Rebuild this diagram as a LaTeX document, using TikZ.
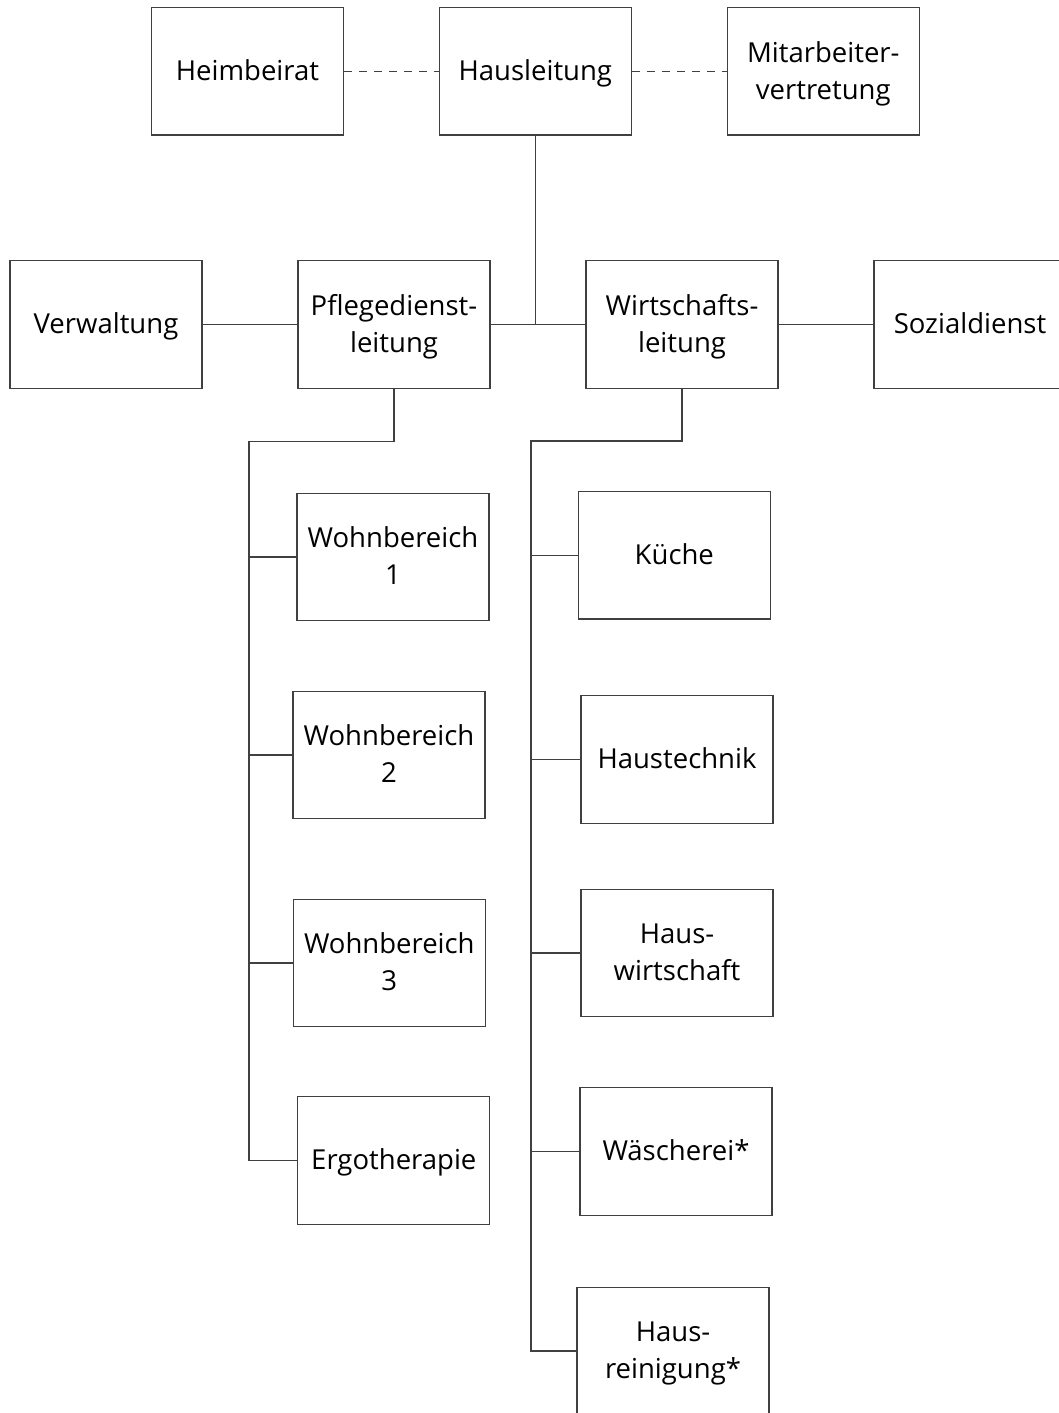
\documentclass[tikz,border=0pt]{standalone}
\usepackage{fontspec}
\setmainfont{Open Sans}
\newcommand\ls{\rule[-0.25em]{0pt}{1.18em}}
\begin{document}
\begin{tikzpicture}[x=1pt,y=-1pt,
  box/.style={draw=black!75, line width=1.2pt, minimum width=192pt, minimum height=127.5pt,
    inner sep=0pt, align=center, font=\fontsize{27.5}{37}\selectfont},
  conn/.style={draw=black!75, line width=1.2pt},
  dconn/.style={conn, dash pattern=on 8pt off 7pt}]
\useasboundingbox (0,0) rectangle (1059,1413);
% top row
\node[box] (heim) at (247.5,71.3) {\ls Heimbeirat};
\node[box] (haus) at (535.3,71.3) {\ls Hausleitung};
\node[box] (mitarb) at (823.3,71.3) {\ls Mitarbeiter-\\\ls vertretung};
% second row
\node[box] (verw) at (106,324.5) {\ls Verwaltung};
\node[box] (pflege) at (394,324.5) {\ls Pflegedienst-\\\ls leitung};
\node[box] (wirt) at (682,324.5) {\ls Wirtschafts-\\\ls leitung};
\node[box] (sozial) at (970,324.5) {\ls Sozialdienst};
% left column
\node[box] (wb1) at (393,557) {\ls Wohnbereich\\\ls 1};
\node[box] (wb2) at (389,755) {\ls Wohnbereich\\\ls 2};
\node[box] (wb3) at (389.3,963) {\ls Wohnbereich\\\ls 3};
\node[box] (ergo) at (393.8,1160.5) {\ls Ergotherapie};
% right column
\node[box] (kueche) at (674.3,555.3) {\ls Küche};
\node[box] (haustech) at (677,759.5) {\ls Haustechnik};
\node[box] (hausw) at (677,953) {\ls Haus-\\\ls wirtschaft};
\node[box] (waesch) at (676,1151.5) {\ls Wäscherei*};
\node[box] (hausrein) at (673,1351) {\ls Haus-\\\ls reinigung*};
% junction coordinates
\coordinate (pj) at (394,441.5);
\coordinate (ps) at (249,441.5);
\coordinate (wj) at (682,441);
\coordinate (ws) at (531,441);
% connectors
\draw[dconn] (heim.east) -- (haus.west);
\draw[dconn] (haus.east) -- (mitarb.west);
\draw[conn] (haus.south) -- (haus.south |- pflege.east);
\draw[conn] (verw.east) -- (pflege.west);
\draw[conn] (pflege.east) -- (wirt.west);
\draw[conn] (wirt.east) -- (sozial.west);
\draw[conn] (pflege.south) -- (pj) -- (ps) -- (ps |- ergo.west) -- (ergo.west);
\draw[conn] (ps |- wb1.west) -- (wb1.west);
\draw[conn] (ps |- wb2.west) -- (wb2.west);
\draw[conn] (ps |- wb3.west) -- (wb3.west);
\draw[conn] (wirt.south) -- (wj) -- (ws) -- (ws |- hausrein.west) -- (hausrein.west);
\draw[conn] (ws |- kueche.west) -- (kueche.west);
\draw[conn] (ws |- haustech.west) -- (haustech.west);
\draw[conn] (ws |- hausw.west) -- (hausw.west);
\draw[conn] (ws |- waesch.west) -- (waesch.west);
\end{tikzpicture}
\end{document}
